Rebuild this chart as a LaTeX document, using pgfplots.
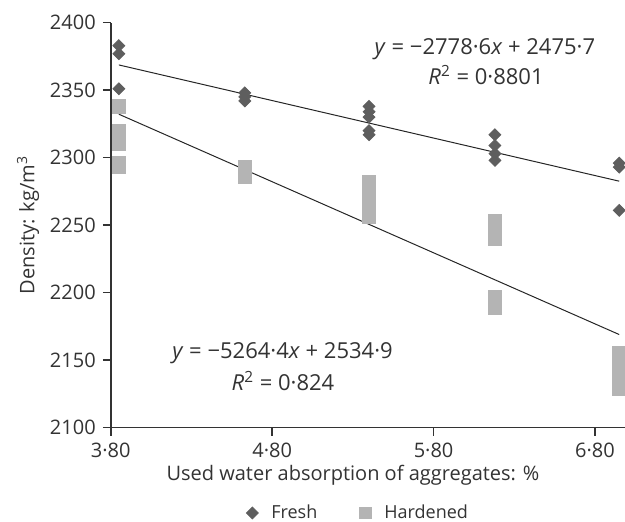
\documentclass[border=0pt]{standalone}
\usepackage{pgfplots}
\pgfplotsset{compat=1.18}
\usepackage{fontspec}
\setmainfont{Open Sans}
\definecolor{freshc}{HTML}{5E5E5E}
\definecolor{hardc}{HTML}{B4B4B4}
\definecolor{txt}{HTML}{333333}
\begin{document}
\begin{tikzpicture}
\begin{axis}[
  at={(0,0)}, anchor=south west,
  x=80.7pt, y=0.675pt,
  xmin=3.8, xmax=6.986, ymin=2100, ymax=2400,
  enlargelimits=false, clip=false,
  axis lines=left,
  axis line style={-, line width=0.8pt, color=black!80},
  tick style={line width=0.8pt, color=black!80},
  tick align=outside, major tick length=4pt,
  xtick={3.8,4.8,5.8,6.8},
  xticklabels={3·80,4·80,5·80,6·80},
  ytick={2100,2150,2200,2250,2300,2350,2400},
  yticklabels={2100,2150,2200,2250,2300,2350,2400},
  font=\fontsize{10}{12}\selectfont,
  every tick label/.append style={font=\fontsize{10}{12}\selectfont, text=txt},
  xlabel={Used water absorption of aggregates: \%},
  ylabel={Density: kg/m\textsuperscript{3}},
  xlabel style={at={(axis description cs:0.471,0)}, anchor=center, yshift=-24pt, text=txt, font=\fontsize{10}{12}\selectfont},
  ylabel style={at={(axis description cs:-0.161,0.5)}, anchor=center, text=txt, font=\fontsize{10}{12}\selectfont},
  legend columns=2,
  legend image code/.code={\path[draw=none,fill=none] (-4pt,-3pt) rectangle (4pt,3pt); \draw[#1] plot coordinates {(0pt,0pt)};},
  legend style={at={(axis description cs:0.481,-0.2105)}, anchor=center, draw=none, fill=none,
    font=\fontsize{9}{11}\selectfont, text=txt, inner sep=0pt,
    /tikz/every odd column/.append style={column sep=3.5pt},
    /tikz/every even column/.append style={column sep=18pt}},
]
\addplot[only marks, mark=square*, mark size=3.33pt, color=hardc, mark options={draw=none, fill=hardc}, forget plot] coordinates {
 (3.85,2338) (3.85,2320) (3.85,2315) (3.85,2310) (3.85,2296) (3.85,2293)
 (4.63,2293) (4.63,2289) (4.63,2286)
 (5.40,2282) (5.40,2273) (5.40,2264) (5.40,2256)
 (6.18,2253) (6.18,2246) (6.18,2240) (6.18,2197) (6.18,2189)
 (6.95,2155) (6.95,2146) (6.95,2138) (6.95,2129)
};
\addplot[only marks, mark=square*, mark size=2.1pt, color=freshc, mark options={draw=none, fill=freshc, rotate=45}, forget plot] coordinates {
 (3.85,2383) (3.85,2377) (3.85,2351)
 (4.63,2348) (4.63,2345) (4.63,2342)
 (5.40,2338) (5.40,2334) (5.40,2330) (5.40,2320) (5.40,2317)
 (6.18,2317) (6.18,2309) (6.18,2303) (6.18,2298)
 (6.95,2296) (6.95,2293) (6.95,2261)
};
\addplot[black!85, line width=0.5pt, forget plot] coordinates {(3.85,2368.7) (6.95,2282.6)};
\addplot[black!85, line width=0.5pt, forget plot] coordinates {(3.85,2332.2) (6.95,2169.0)};
\addlegendimage{only marks, mark=square*, mark size=2.1pt, color=freshc, mark options={draw=none, fill=freshc, rotate=45}}
\addlegendentry{Fresh}
\addlegendimage{only marks, mark=square*, mark size=2.8pt, color=hardc, mark options={draw=none, fill=hardc}}
\addlegendentry{Hardened}
\node[anchor=base, text=txt, font=\fontsize{11}{13}\selectfont] at (axis cs:6.118,2376.1) {\textit{y} = −2778·6\textit{x} + 2475·7};
\node[anchor=base, text=txt, font=\fontsize{11}{13}\selectfont] at (axis cs:6.125,2353.9) {\textit{R}\textsuperscript{2} = 0·8801};
\node[anchor=base, text=txt, font=\fontsize{11}{13}\selectfont] at (axis cs:4.864,2151.4) {\textit{y} = −5264·4\textit{x} + 2534·9};
\node[anchor=base, text=txt, font=\fontsize{11}{13}\selectfont] at (axis cs:4.867,2127.9) {\textit{R}\textsuperscript{2} = 0·824};
\end{axis}
\pgfresetboundingbox
\path (-55.4pt,-47.15pt) rectangle (257.1pt,213.85pt);
\end{tikzpicture}
\end{document}
